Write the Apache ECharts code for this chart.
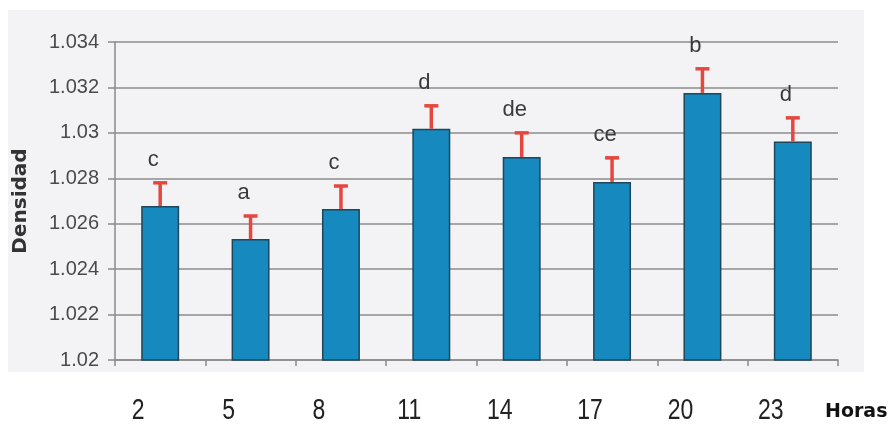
<!DOCTYPE html>
<html>
<head>
<meta charset="utf-8">
<script src="https://cdn.jsdelivr.net/npm/echarts@6/dist/echarts.min.js"></script>
<style>
  html, body { margin: 0; padding: 0; background: #ffffff; }
  #chart { width: 891px; height: 427px; }
</style>
</head>
<body>
<div id="chart"></div>
<script>
// Hours of sampling and mean density with standard error
const horas = ['2', '5', '8', '11', '14', '17', '20', '23'];
const densidad = [1.02678, 1.02533, 1.02665, 1.03018, 1.02894, 1.02784, 1.03176, 1.02962];
const error = [0.00102, 0.00101, 0.00101, 0.00101, 0.00106, 0.00106, 0.00106, 0.00104];
const letras = ['c', 'a', 'c', 'd', 'de', 'ce', 'b', 'd'];
const yTicks = [1.02, 1.022, 1.024, 1.026, 1.028, 1.03, 1.032, 1.034];

const chart = echarts.init(document.getElementById('chart'));

const errData = horas.map((h, i) => [i, densidad[i], densidad[i] + error[i], letras[i]]);
const hourLabelData = horas.map((h, i) => [i, yTicks[0], h]);

chart.setOption({
  animation: false,
  backgroundColor: '#ffffff',
  graphic: [{
    type: 'rect',
    z: -10,
    shape: { x: 8, y: 10, width: 856, height: 362 },
    style: { fill: '#f3f3f6' }
  }],
  grid: { left: 115, right: 53, top: 42, bottom: 67, outerBoundsMode: 'none', containLabel: false },
  xAxis: {
    type: 'category',
    data: horas,
    boundaryGap: true,
    axisLine: { lineStyle: { color: '#8a8a8a', width: 1.5 } },
    axisTick: { show: true, length: 6, lineStyle: { color: '#8a8a8a', width: 1.5 } },
    // hour labels are drawn by the tall-text series below
    axisLabel: { show: false },
    name: 'Horas',
    nameLocation: 'end',
    nameGap: 0,
    nameTextStyle: {
      fontSize: 19,
      fontWeight: 'bold',
      color: '#111111',
      fontFamily: 'DejaVu Sans',
      padding: [43, 0, 0, -13],
      verticalAlign: 'top',
      align: 'left'
    }
  },
  yAxis: {
    type: 'value',
    min: yTicks[0],
    max: yTicks[yTicks.length - 1],
    interval: 0.002,
    axisLine: { show: true, lineStyle: { color: '#8a8a8a', width: 1.5 } },
    axisTick: { show: true, length: 7, lineStyle: { color: '#8a8a8a', width: 1.5 } },
    splitLine: { lineStyle: { color: '#8c8c8c', width: 1.5 } },
    axisLabel: {
      margin: 16,
      fontSize: 20,
      color: '#4a4a4a',
      fontFamily: 'Liberation Sans',
      formatter: v => String(parseFloat(v.toFixed(3)))
    },
    name: 'Densidad',
    nameLocation: 'middle',
    nameRotate: 90,
    nameGap: 84,
    nameTextStyle: {
      fontSize: 20,
      fontWeight: 'bold',
      color: '#333333',
      fontFamily: 'DejaVu Sans'
    }
  },
  series: [
    {
      type: 'bar',
      data: densidad,
      barWidth: '42%',
      itemStyle: {
        color: '#1689be',
        borderColor: '#1f4659',
        borderWidth: 1.5
      },
      z: 2
    },
    {
      type: 'custom',
      data: errData,
      z: 3,
      renderItem: (params, api) => {
        const i = api.value(0);
        const base = api.coord([i, api.value(1)]);
        const top = api.coord([i, api.value(2)]);
        const half = 7;
        return {
          type: 'group',
          children: [
            {
              type: 'line',
              shape: { x1: base[0], y1: base[1], x2: top[0], y2: top[1] },
              style: { stroke: '#e5473e', lineWidth: 3.5 }
            },
            {
              type: 'line',
              shape: { x1: top[0] - half, y1: top[1], x2: top[0] + half, y2: top[1] },
              style: { stroke: '#e5473e', lineWidth: 3.5 }
            },
            {
              // significance letter, set a little left of the bar centre
              type: 'text',
              style: {
                x: top[0] - 7,
                y: top[1] - 12,
                text: api.value(3),
                align: 'center',
                verticalAlign: 'bottom',
                fontSize: 22,
                fill: '#3a3a3a',
                fontFamily: 'Liberation Sans'
              }
            }
          ]
        };
      },
      encode: { x: 0, y: 1 }
    },
    {
      // hour tick labels, stretched vertically and set left of each bar
      type: 'custom',
      data: hourLabelData,
      clip: false,
      silent: true,
      renderItem: (params, api) => {
        const p = api.coord([api.value(0), api.value(1)]);
        return {
          type: 'text',
          x: p[0] - 22,
          y: p[1] + 51,
          scaleY: 1.3,
          style: {
            x: 0,
            y: 0,
            text: horas[params.dataIndex],
            align: 'center',
            verticalAlign: 'middle',
            fontSize: 23,
            fill: '#222222',
            fontFamily: 'Liberation Sans'
          }
        };
      },
      encode: { x: 0, y: 1 }
    }
  ]
});
</script>
</body>
</html>
